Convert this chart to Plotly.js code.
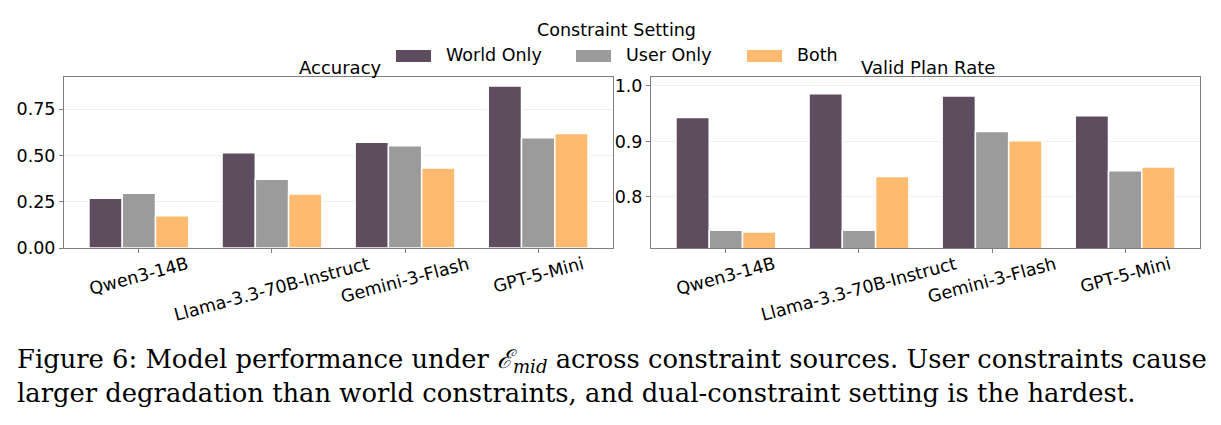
<!DOCTYPE html>
<html>
<head>
<meta charset="utf-8">
<script src="https://cdn.plot.ly/plotly-3.0.1.min.js"></script>
<style>html,body{margin:0;padding:0;background:#fff}#chart{width:1221px;height:425px}</style>
</head>
<body>
<div id="chart"></div>
<script>
// ---- data ----
const categories = ['Qwen3-14B', 'Llama-3.3-70B-Instruct', 'Gemini-3-Flash', 'GPT-5-Mini'];
const seriesNames = ['World Only', 'User Only', 'Both'];
const accuracyWorld = [0.269, 0.515, 0.572, 0.876];
const accuracyUser  = [0.296, 0.371, 0.553, 0.596];
const accuracyBoth  = [0.174, 0.292, 0.432, 0.619];
const validWorld = [0.943, 0.986, 0.982, 0.946];
const validUser  = [0.740, 0.740, 0.918, 0.847];
const validBoth  = [0.737, 0.837, 0.901, 0.854];
const panelTitles = ['Accuracy', 'Valid Plan Rate'];
const legendTitle = 'Constraint Setting';
const accTicks = [0, 0.25, 0.5, 0.75];
const validTicks = [0.8, 0.9, 1.0];
const captionLines = [
  'Figure 6: Model performance under <i>ℰ</i><sub><i>mid</i></sub> across constraint sources. User constraints cause',
  'larger degradation than world constraints, and dual-constraint setting is the hardest.'
];

// ---- styling ----
const W = 1221, H = 425;
const px = v => v / W;
const py = v => 1 - v / H;
const colors = ['#5e4c5f', '#9b9b9b', '#feba6e'];
const FONT = 'DejaVu Sans, sans-serif';
const FS = 17.5;
const idx = categories.map((c, i) => i);

const accSeries = [accuracyWorld, accuracyUser, accuracyBoth];
const validSeries = [validWorld, validUser, validBoth];

const traces = [];
accSeries.forEach((vals, s) => traces.push({
  type: 'bar', x: idx, y: vals, name: seriesNames[s], xaxis: 'x', yaxis: 'y',
  marker: {color: colors[s], line: {color: '#ffffff', width: 1.5}}, showlegend: false,
  hoverinfo: 'x+y'
}));
validSeries.forEach((vals, s) => traces.push({
  type: 'bar', x: idx, y: vals, name: seriesNames[s], xaxis: 'x2', yaxis: 'y2',
  marker: {color: colors[s], line: {color: '#ffffff', width: 1.5}}, showlegend: false,
  hoverinfo: 'x+y'
}));

const axisCommon = {
  showline: true, mirror: true, linecolor: '#7f7f7f', linewidth: 1,
  ticks: 'outside', ticklen: 4, tickcolor: '#7f7f7f', tickwidth: 1,
  tickfont: {family: FONT, size: FS, color: '#000'}, zeroline: false
};
const xCommon = Object.assign({}, axisCommon, {
  type: 'linear', range: [-0.5625, 3.5625], tickvals: idx, showticklabels: false, showgrid: false
});

const annotations = [];
// panel titles
[[64, 613], [651, 1200]].forEach((d, i) => annotations.push({
  xref: 'paper', yref: 'paper', x: px((d[0] + d[1]) / 2 + 2), y: py(67), xanchor: 'center', yanchor: 'middle',
  text: panelTitles[i], showarrow: false, font: {family: FONT, size: 18, color: '#000'}
}));
// rotated category labels
['x', 'x2'].forEach(xr => categories.forEach((c, i) => annotations.push({
  xref: xr, yref: 'paper', x: i, y: py(252), xanchor: 'center', yanchor: 'top',
  text: c, textangle: -15, showarrow: false, borderpad: 0,
  font: {family: FONT, size: FS, color: '#000'}
})));
// legend (manual)
annotations.push({
  xref: 'paper', yref: 'paper', x: px(616), y: py(30), xanchor: 'center', yanchor: 'middle',
  text: legendTitle, showarrow: false, font: {family: FONT, size: FS, color: '#000'}
});
const swX = [396, 576, 747];
const shapes = [];
seriesNames.forEach((n, s) => {
  shapes.push({type: 'rect', xref: 'paper', yref: 'paper', x0: px(swX[s]), x1: px(swX[s] + 35),
    y0: py(62), y1: py(50), fillcolor: colors[s], line: {width: 0}});
  annotations.push({xref: 'paper', yref: 'paper', x: px(swX[s] + 48), y: py(55), xanchor: 'left', yanchor: 'middle',
    text: n, showarrow: false, font: {family: FONT, size: FS, color: '#000'}});
});
// caption
captionLines.forEach((t, i) => annotations.push({
  xref: 'paper', yref: 'paper', x: px(15), y: py(360 + i * 33), xanchor: 'left', yanchor: 'middle',
  text: t, showarrow: false, font: {family: 'DejaVu Serif, serif', size: 25.8, color: '#000'}
}));

const layout = {
  width: W, height: H, margin: {l: 0, r: 0, t: 0, b: 0},
  paper_bgcolor: '#fff', plot_bgcolor: '#fff',
  barmode: 'group', bargap: 0.25, bargroupgap: 0,
  showlegend: false,
  xaxis: Object.assign({}, xCommon, {domain: [px(64), px(613)], anchor: 'y'}),
  xaxis2: Object.assign({}, xCommon, {domain: [px(651), px(1200)], anchor: 'y2'}),
  yaxis: Object.assign({}, axisCommon, {domain: [py(248), py(77)], anchor: 'x', range: [0, 0.924],
    tickvals: accTicks, tickformat: '.2f', showgrid: true, gridcolor: '#efefef', gridwidth: 1}),
  yaxis2: Object.assign({}, axisCommon, {domain: [py(248), py(77)], anchor: 'x2', range: [0.708, 1.016],
    tickvals: validTicks, tickformat: '.1f', showgrid: true, gridcolor: '#efefef', gridwidth: 1}),
  annotations: annotations, shapes: shapes
};

Plotly.newPlot('chart', traces, layout, {displayModeBar: false, staticPlot: true});
</script>
</body>
</html>
